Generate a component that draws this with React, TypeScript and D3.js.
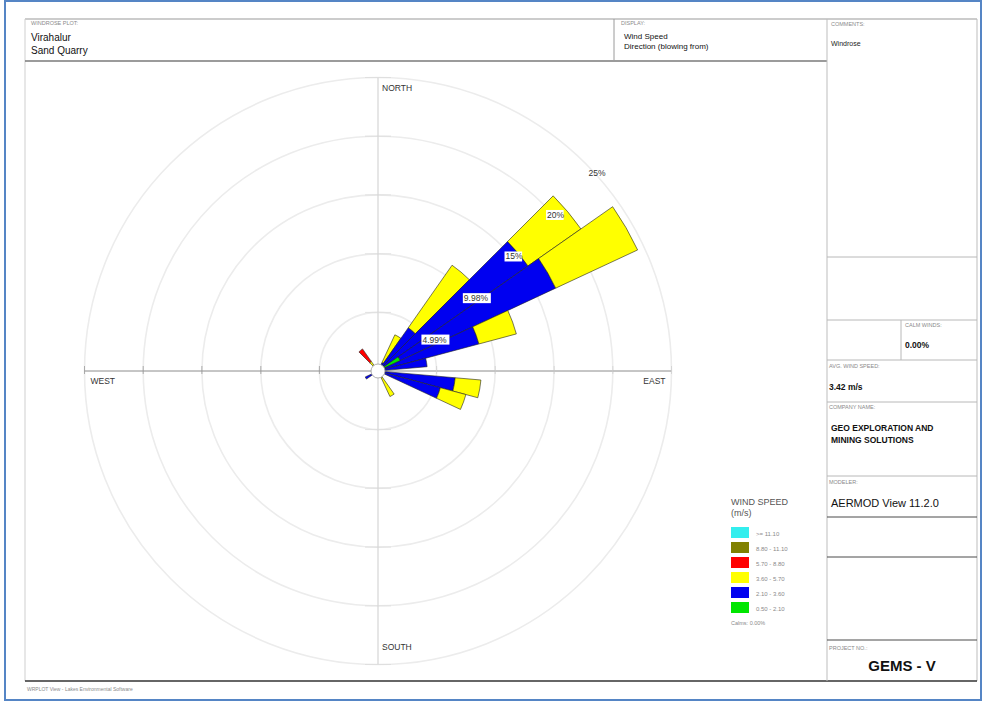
import React from "react";
import * as d3 from "d3";

// ---- data ----
const directions = [0, 10, 20, 30, 40, 50, 60, 70, 80, 90, 100, 110, 120, 130, 140, 150, 160, 170, 180, 190, 200, 210, 220, 230, 240, 250, 260, 270, 280, 290, 300, 310, 320, 330, 340, 350];
// frequency (%) per speed class, per direction (blowing from)
const s050_210 = [0, 0, 0, 0.2, 0.3, 0.6, 2.1, 0.5, 0.4, 0, 0.4, 0.3, 0, 0, 0, 0.2, 0, 0, 0, 0, 0, 0, 0, 0, 0.4, 0, 0, 0, 0, 0, 0, 0, 0.2, 0, 0, 0];
const s210_360 = [0, 0, 0, 0.6, 4.2, 15.0, 14.6, 8.4, 3.8, 0, 6.2, 5.2, 0, 0, 0, 0.4, 0, 0, 0, 0, 0, 0, 0, 0, 0.8, 0, 0, 0, 0, 0, 0, 0, 0.3, 0, 0, 0];
const s360_570 = [0, 0, 0, 2.6, 6.5, 5.5, 7.7, 3.3, 0, 0, 2.2, 2.25, 0, 0, 0, 1.8, 0, 0, 0, 0, 0, 0, 0, 0, 0, 0, 0, 0, 0, 0, 0, 0, 0.5, 0, 0, 0];
const s570_880 = [0, 0, 0, 0, 0, 0, 0, 0, 0, 0, 0, 0, 0, 0, 0, 0, 0, 0, 0, 0, 0, 0, 0, 0, 0, 0, 0, 0, 0, 0, 0, 0, 1.3, 0, 0, 0];
const s880_1110 = [0, 0, 0, 0, 0, 0, 0, 0, 0, 0, 0, 0, 0, 0, 0, 0, 0, 0, 0, 0, 0, 0, 0, 0, 0, 0, 0, 0, 0, 0, 0, 0, 0, 0, 0, 0];
const s1110 = [0, 0, 0, 0, 0, 0, 0, 0, 0, 0, 0, 0, 0, 0, 0, 0, 0, 0, 0, 0, 0, 0, 0, 0, 0, 0, 0, 0, 0, 0, 0, 0, 0, 0, 0, 0];

const speedSeries = [s050_210, s210_360, s360_570, s570_880, s880_1110, s1110];
const speedColors = ["#00e600", "#0000f0", "#ffff00", "#ff0000", "#808000", "#33eeee"];
const legendLabels = [">= 11.10", "8.80 - 11.10", "5.70 - 8.80", "3.60 - 5.70", "2.10 - 3.60", "0.50 - 2.10"];
const legendColors = ["#33eeee", "#808000", "#ff0000", "#ffff00", "#0000f0", "#00e600"];
const ringValues = [4.99, 9.98, 15, 20, 25];
const compassLabels = ["NORTH", "EAST", "SOUTH", "WEST"];

const FONT = "'Liberation Sans', Arial, sans-serif";

export default function App() {
  const cx = 378;
  const cy = 371;
  const rScale = d3.scaleLinear().domain([0, 25]).range([0, 293.5]);
  const Rmax = rScale(25);
  const arc = d3.arc<any>();
  const toRad = (deg: number) => (deg * Math.PI) / 180;

  const petals: any[] = [];
  directions.forEach((dir, i) => {
    let cum = 0;
    speedSeries.forEach((series, k) => {
      const v = series[i];
      if (v > 0) {
        petals.push({
          key: `${dir}-${k}`,
          d: arc({
            innerRadius: rScale(cum),
            outerRadius: rScale(cum + v),
            startAngle: toRad(dir - 5),
            endAngle: toRad(dir + 5),
          }),
          fill: speedColors[k],
        });
      }
      cum += v;
    });
  });

  const small = { fontFamily: FONT, fontSize: 5.5, fill: "#8a8a8a" } as any;
  const light = "#b8b8b8";
  const dark = "#4a4a4a";

  const rowLines = [257, 320, 360, 402, 476];
  const darkRowLines = [517, 557, 640];

  return (
    <svg width={984} height={704} style={{ position: "absolute", left: 0, top: 0, background: "#fff" }}>
      <rect x={0} y={0} width={984} height={704} fill="#fff" />
      {/* blue page border */}
      <rect x={5} y={1} width={976} height={699} fill="none" stroke="#5585c5" strokeWidth={2} />

      {/* main frame */}
      <line x1={25} y1={19} x2={977} y2={19} stroke="#9a9a9a" strokeWidth={1.2} />
      <line x1={25} y1={19} x2={25} y2={681} stroke="#cfcfcf" strokeWidth={1} />
      <line x1={977} y1={19} x2={977} y2={681} stroke="#bdbdbd" strokeWidth={1} />
      <line x1={25} y1={681} x2={977} y2={681} stroke="#333" strokeWidth={1.5} />
      <line x1={25} y1={61} x2={827} y2={61} stroke="#7a7a7a" strokeWidth={1.5} />
      <line x1={614} y1={19} x2={614} y2={61} stroke="#9a9a9a" strokeWidth={1} />
      <line x1={827} y1={19} x2={827} y2={681} stroke="#bdbdbd" strokeWidth={1} />
      {rowLines.map((y) => (
        <line key={y} x1={827} y1={y} x2={977} y2={y} stroke={light} strokeWidth={1} />
      ))}
      {darkRowLines.map((y) => (
        <line key={y} x1={827} y1={y} x2={977} y2={y} stroke={dark} strokeWidth={1} />
      ))}
      <line x1={901} y1={320} x2={901} y2={360} stroke={light} strokeWidth={1} />

      {/* header texts */}
      <text x={31} y={25} {...small}>WINDROSE PLOT:</text>
      <text x={31} y={41} fontFamily={FONT} fontSize={10} fill="#111">Virahalur</text>
      <text x={31} y={54} fontFamily={FONT} fontSize={10} fill="#111">Sand Quarry</text>
      <text x={621} y={25} {...small}>DISPLAY:</text>
      <text x={624} y={39} fontFamily={FONT} fontSize={8} fill="#111">Wind Speed</text>
      <text x={624} y={49} fontFamily={FONT} fontSize={8} fill="#111">Direction (blowing from)</text>
      <text x={831} y={26} {...small}>COMMENTS:</text>
      <text x={831} y={46} fontFamily={FONT} fontSize={7} fill="#222">Windrose</text>

      {/* right column texts */}
      <text x={905} y={327} {...small}>CALM WINDS:</text>
      <text x={905} y={348} fontFamily={FONT} fontSize={8.5} fill="#111" fontWeight="bold">0.00%</text>
      <text x={829} y={368} {...small}>AVG. WIND SPEED:</text>
      <text x={829} y={390} fontFamily={FONT} fontSize={8.5} fill="#111" fontWeight="bold">3.42 m/s</text>
      <text x={829} y={409} {...small}>COMPANY NAME:</text>
      <text x={831} y={431} fontFamily={FONT} fontSize={8.5} fill="#111" fontWeight="bold">GEO EXPLORATION AND</text>
      <text x={831} y={443} fontFamily={FONT} fontSize={8.5} fill="#111" fontWeight="bold">MINING SOLUTIONS</text>
      <text x={829} y={484} {...small}>MODELER:</text>
      <text x={831} y={507} fontFamily={FONT} fontSize={11} fill="#111">AERMOD View 11.2.0</text>
      <text x={829} y={650} {...small}>PROJECT NO.:</text>
      <text x={902} y={671} fontFamily={FONT} fontSize={15} fill="#111" fontWeight="bold" textAnchor="middle">GEMS - V</text>

      {/* footer */}
      <text x={27} y={691} {...small} fontSize={5}>WRPLOT View - Lakes Environmental Software</text>

      {/* rings */}
      {ringValues.map((v) => (
        <circle key={v} cx={cx} cy={cy} r={rScale(v)} fill="none" stroke="#ececec" strokeWidth={1.6} />
      ))}
      {/* axes */}
      <line x1={cx - Rmax} y1={cy} x2={cx + Rmax} y2={cy} stroke="#8c8c8c" strokeWidth={1} />
      <line x1={cx} y1={cy - Rmax} x2={cx} y2={cy + Rmax} stroke="#cdcdcd" strokeWidth={1} />
      {ringValues.map((v) => (
        <g key={"t" + v}>
          <line x1={cx - rScale(v)} y1={cy - 5} x2={cx - rScale(v)} y2={cy + 3} stroke="#9a9a9a" strokeWidth={0.8} />
          <line x1={cx + rScale(v)} y1={cy - 5} x2={cx + rScale(v)} y2={cy + 3} stroke="#cfcfcf" strokeWidth={0.8} />
          <line x1={cx - 13} y1={cy - rScale(v)} x2={cx + 13} y2={cy - rScale(v)} stroke="#dcdcdc" strokeWidth={0.8} />
          <line x1={cx - 13} y1={cy + rScale(v)} x2={cx + 13} y2={cy + rScale(v)} stroke="#dcdcdc" strokeWidth={0.8} />
        </g>
      ))}
      {/* compass labels */}
      <text x={cx + 4} y={cy - Rmax + 13} fontFamily={FONT} fontSize={8.5} fill="#333">{compassLabels[0]}</text>
      <text x={cx + Rmax - 6} y={cy + 13} fontFamily={FONT} fontSize={8.5} fill="#333" textAnchor="end">{compassLabels[1]}</text>
      <text x={cx + 4} y={cy + Rmax - 15} fontFamily={FONT} fontSize={8.5} fill="#333">{compassLabels[2]}</text>
      <text x={cx - Rmax + 6} y={cy + 13} fontFamily={FONT} fontSize={8.5} fill="#333">{compassLabels[3]}</text>

      {/* petals */}
      <g transform={`translate(${cx},${cy})`}>
        {petals.map((p) => (
          <path key={p.key} d={p.d} fill={p.fill} stroke="#222" strokeWidth={0.6} />
        ))}
        <circle r={7} fill="#fff" stroke="#9a9a9a" strokeWidth={0.8} />
      </g>

      {/* ring labels */}
      {ringValues.map((v, i) => {
        const r = rScale(v);
        const px = cx + r * Math.SQRT1_2 + 2;
        const py = cy - r * Math.SQRT1_2 + 5;
        const label = (Number.isInteger(v) ? String(v) : v.toFixed(2)) + "%";
        const w = label.length * 5.2 + 2;
        return (
          <g key={"l" + v}>
            {i < 4 && <rect x={px} y={py} width={w} height={10} fill="#fff" />}
            <text x={px + 1} y={py + 8} fontFamily={FONT} fontSize={8.5} fill="#333">{label}</text>
          </g>
        );
      })}

      {/* legend */}
      <text x={731} y={505} fontFamily={FONT} fontSize={9} fill="#555">WIND SPEED</text>
      <text x={731} y={516} fontFamily={FONT} fontSize={9} fill="#555">(m/s)</text>
      {legendLabels.map((lab, i) => (
        <g key={lab}>
          <rect x={731} y={527 + i * 15} width={18} height={11} fill={legendColors[i]} />
          <text x={756} y={535.5 + i * 15} fontFamily={FONT} fontSize={6} fill="#8a8a8a">{lab}</text>
        </g>
      ))}
      <text x={731} y={625} fontFamily={FONT} fontSize={5.5} fill="#8a8a8a">Calms: 0.00%</text>
    </svg>
  );
}
